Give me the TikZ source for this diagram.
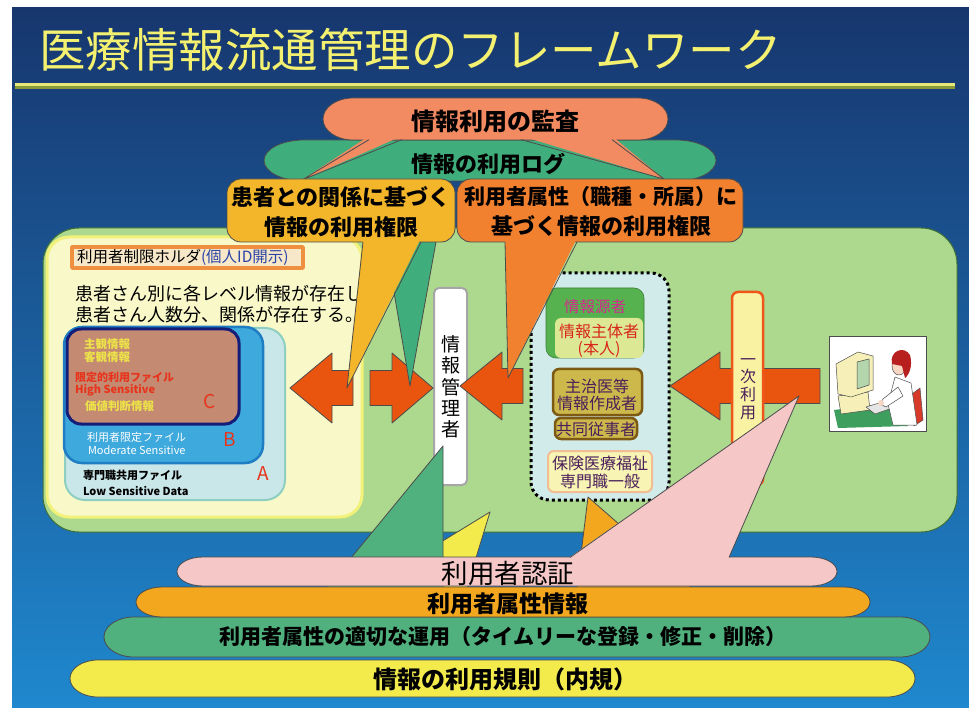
\documentclass[tikz,border=0pt]{standalone}
\usepackage{fontspec}
\setmainfont{Noto Sans CJK JP}
\usetikzlibrary{calc}

\definecolor{bgtop}{HTML}{17366E}
\definecolor{bgbot}{HTML}{1F88CE}
\definecolor{titleyel}{HTML}{F4F070}
\definecolor{ruleyel}{HTML}{E6E878}
\definecolor{ruleolive}{HTML}{8A9A38}
\definecolor{auditsalmon}{HTML}{F28A62}
\definecolor{loggreen}{HTML}{40AE7C}
\definecolor{relyel}{HTML}{F3B62A}
\definecolor{attrorg}{HTML}{F2812F}
\definecolor{panelgreen}{HTML}{ACD98D}
\definecolor{paneledge}{HTML}{3E6E36}
\definecolor{holderfill}{HTML}{F8F8C8}
\definecolor{holderedge}{HTML}{F2F27A}
\definecolor{labelorg}{HTML}{EE9040}
\definecolor{labelfill}{HTML}{F6E8C8}
\definecolor{idblue}{HTML}{2A44A8}
\definecolor{boxA}{HTML}{C9E7E8}
\definecolor{boxAedge}{HTML}{8ECFC2}
\definecolor{boxB}{HTML}{3EA9DC}
\definecolor{boxBedge}{HTML}{1F7DC4}
\definecolor{boxC}{HTML}{C48A72}
\definecolor{boxCedge}{HTML}{141E78}
\definecolor{ctext}{HTML}{ECE24A}
\definecolor{redtext}{HTML}{E8341C}
\definecolor{arroworg}{HTML}{E9540F}
\definecolor{dotfill}{HTML}{D0EBEA}
\definecolor{srcgreen}{HTML}{56B24E}
\definecolor{srcinner}{HTML}{DDE894}
\definecolor{srcmag}{HTML}{D42A8C}
\definecolor{srcred}{HTML}{D8261A}
\definecolor{olivefill}{HTML}{CDB84C}
\definecolor{oliveedge}{HTML}{7C5A14}
\definecolor{purpletext}{HTML}{4A1E5A}
\definecolor{generalfill}{HTML}{F8F4B4}
\definecolor{generaledge}{HTML}{F2BC94}
\definecolor{primaryfill}{HTML}{F8F2A2}
\definecolor{primaryedge}{HTML}{F0561A}
\definecolor{pinklayer}{HTML}{F5C7C7}
\definecolor{orglayer}{HTML}{F2A71F}
\definecolor{greenlayer}{HTML}{50B07E}
\definecolor{yellayer}{HTML}{F3EA4C}
\definecolor{deskgreen}{HTML}{3E9E5E}
\definecolor{beige}{HTML}{F6F0B8}
\definecolor{screengreen}{HTML}{B4D6AC}
\definecolor{chairred}{HTML}{D83A2A}
\definecolor{hairred}{HTML}{B82020}
\definecolor{skin}{HTML}{F8D6C4}

% flat band with elliptical ends: options, x1, y1, x2, y2, end radius
\newcommand\layerlens[6]{%
  \path[#1] ({#2+#6},#3) -- ({#4-#6},#3)
    arc[start angle=-90,end angle=90,x radius=#6,y radius={(#5-#3)/2}]
    -- ({#2+#6},#5)
    arc[start angle=90,end angle=270,x radius=#6,y radius={(#5-#3)/2}] -- cycle;}

% horizontal block arrow: tip x, head base x, tail x, centre y, head half, shaft half
\newcommand\blockarr[6]{%
  \path[blockarrow] (#1,#4) -- (#2,{#4-#5}) -- (#2,{#4-#6}) -- (#3,{#4-#6})
    -- (#3,{#4+#6}) -- (#2,{#4+#6}) -- (#2,{#4+#5}) -- cycle;}

\tikzset{
  blockarrow/.style={fill=arroworg, draw=black!70, line width=0.8pt},
  txt/.style={inner sep=0pt, outer sep=0pt},
  fs/.style={font=\fontsize{#1}{#1}\selectfont},
  fsb/.style={font=\fontsize{#1}{#1}\selectfont\bfseries},
}

\begin{document}
\begin{tikzpicture}[x=1pt,y=-1pt,line join=round]
\useasboundingbox (0,0) rectangle (969,708);
\fill[white] (0,0) rectangle (969,708);
\shade[top color=bgtop, bottom color=bgbot] (12,8) rectangle (969,708);

% heading
\node[txt, anchor=west, fs=46.5, text=titleyel] (title) at (39,50) {医療情報流通管理のフレームワーク};
\fill[ruleyel] (15,83) rectangle (955,86.5);
\fill[ruleolive] (15,86.5) rectangle (955,89);

% main panel
\draw[fill=panelgreen, draw=paneledge, line width=1pt, rounded corners=36pt] (43,228) rectangle (957,532);

% holder of per-patient files
\draw[fill=holderfill, draw=holderedge, line width=3pt, rounded corners=22pt] (47,237) rectangle (362,517);
\draw[fill=labelfill, draw=labelorg, line width=3.5pt] (72,247) rectangle (303,268);
\node[txt, anchor=west, fs=15.5] (holder) at (77,257.5) {利用者制限ホルダ{\color{idblue}(個人ID開示)}};
\node[txt, anchor=west, fs=18] (perpat1) at (75,294) {患者さん別に各レベル情報が存在し};
\node[txt, anchor=west, fs=18] (perpat2) at (75,315) {患者さん人数分、関係が存在する。};

\draw[fill=boxA, draw=boxAedge, line width=2pt, rounded corners=20pt] (65,328) rectangle (285,500);
\draw[fill=boxB, draw=boxBedge, line width=2.5pt, rounded corners=18pt] (64,327) rectangle (263,463);
\draw[fill=boxC, draw=boxCedge, line width=3pt, rounded corners=14pt] (67,329) rectangle (239,424);

\node[txt, anchor=west, fsb=11.5, text=ctext] (subj) at (84,344) {主観情報};
\node[txt, anchor=west, fsb=11.5, text=ctext] (obj) at (84,357) {客観情報};
\node[txt, anchor=west, fsb=11, text=redtext] (limfile) at (75,377) {限定的利用ファイル};
\node[txt, anchor=west, fsb=11, text=redtext] (high) at (75,390) {High Sensitive};
\node[txt, anchor=west, fsb=11.5, text=ctext] (value) at (85,406) {価値判断情報};
\node[txt, fs=19, text=redtext] (lvC) at (210,402) {C};

\node[txt, anchor=west, fs=11, text=white] (userfile) at (87,437) {利用者限定ファイル};
\node[txt, anchor=west, fs=11, text=white] (moder) at (88,450) {Moderate Sensitive};
\node[txt, fs=19, text=redtext] (lvB) at (230,440) {B};

\node[txt, anchor=west, fsb=11, text=black] (shared) at (83,475) {専門職共用ファイル};
\node[txt, anchor=west, fsb=11, text=black] (low) at (83,491) {Low Sensitive Data};
\node[txt, fs=19, text=redtext] (lvA) at (263,474) {A};

% information manager pillar
\draw[fill=white, draw=black!35, line width=2pt, rounded corners=5pt] (434,288) rectangle (467,485);
\node[txt, align=center, font=\fontsize{19}{21.3}\selectfont] (manager) at (451,387) {情\\報\\管\\理\\者};

% information sources (dotted group)
\draw[fill=dotfill, draw=black, line width=3pt, dash pattern=on 3pt off 3pt, rounded corners=18pt] (531,273) rectangle (669,500);
\draw[fill=srcgreen, draw=srcgreen!70!black, line width=0.6pt, rounded corners=10pt] (546,288) rectangle (644,358);
\fill[srcinner, rounded corners=6pt] (555,318) rectangle (643,358);
\node[txt, fs=15.5, text=srcmag] (source) at (595,307) {情報源者};
\node[txt, fs=16, text=srcred] (subject) at (599,331) {情報主体者};
\node[txt, fs=16, text=srcred] (self) at (599,349) {(本人)};

\draw[fill=olivefill, draw=oliveedge, line width=2.5pt, rounded corners=6pt] (553,369) rectangle (642,415);
\node[txt, fs=16, text=purpletext] (doctor) at (597,386) {主治医等};
\node[txt, fs=16, text=purpletext] (author) at (597,403) {情報作成者};
\draw[fill=olivefill, draw=oliveedge, line width=2.5pt, rounded corners=6pt] (555,418) rectangle (637,439);
\node[txt, fs=16, text=purpletext] (cowork) at (596,429) {共同従事者};
\draw[fill=generalfill, draw=generaledge, line width=2pt, rounded corners=6pt] (548,451) rectangle (652,492);
\node[txt, fs=16, text=purpletext] (welfare) at (600,463) {保険医療福祉};
\node[txt, fs=16, text=purpletext] (general) at (600,481) {専門職一般};

% flow arrows
\blockarr{290}{332}{353}{388}{35}{17.5}
\blockarr{433}{392}{370}{388}{35}{17.5}
\blockarr{460}{502}{523}{386}{34}{17.5}
\blockarr{670}{720}{820}{386}{34}{17.5}

% primary use pillar
\draw[fill=primaryfill, draw=primaryedge, line width=2.5pt, rounded corners=6pt] (732,292) rectangle (763,485);
\node[txt, align=center, font=\fontsize{16}{17.7}\selectfont, text=purpletext] (primary) at (748,389) {一\\次\\利\\用};

% user at a terminal
\draw[fill=white, draw=black!70, line width=0.8pt] (829,336) rectangle (926,431);
\fill[deskgreen] (834,410) -- (888,403) -- (908,426) -- (838,428) -- cycle;
\draw[fill=beige, draw=black!70, line width=0.5pt] (838,396) -- (868,392) -- (870,410) -- (841,414) -- cycle;
\draw[fill=beige, draw=black!70, line width=0.5pt] (836,364) -- (858,352) -- (873,356) -- (873,390) -- (851,397) -- (838,394) -- cycle;
\draw[fill=screengreen, draw=black!70, line width=0.5pt] (857,362) -- (869,359) -- (869,385) -- (857,389) -- cycle;
\draw[fill=black!10, draw=black!70, line width=0.5pt] (866,407) -- (892,399) -- (901,405) -- (875,414) -- cycle;
\draw[fill=chairred, draw=black!70, line width=0.5pt] (912,394) -- (920,388) -- (923,420) -- (914,426) -- cycle;
\draw[fill=white, draw=black!70, line width=0.5pt] (895,377) -- (911,383) -- (917,425) -- (893,425) -- (888,404) -- cycle;
\draw[fill=white, draw=black!70, line width=0.5pt] (898,387) -- (883,399) -- (880,404) -- (886,407) -- (903,396) -- cycle;
\fill[skin] (881,403) circle (3);
\draw[fill=skin, draw=black!70, line width=0.5pt] (899,366) ellipse (7 and 9);
\fill[hairred] (892,364) .. controls (889,351) and (904,345) .. (910,355) .. controls (913,366) and (909,375) .. (905,378) -- (902,366) -- cycle;

% audit and log banners
\layerlens{fill=loggreen, draw=black!70, line width=0.8pt}{264}{140}{716}{181}{40}
\layerlens{fill=auditsalmon, draw=black!70, line width=0.8pt}{323}{98}{668}{140}{30}
\fill[auditsalmon] (369,136) -- (302,180) -- (402,136) -- cycle;
\draw[black!70, line width=0.8pt] (369,139.6) -- (302,180) -- (402,139.6);
\fill[auditsalmon] (521,136) -- (664,179) -- (612,136) -- cycle;
\draw[black!70, line width=0.8pt] (521,139.6) -- (664,179) -- (612,139.6);
\node[txt, fsb=24] (audit) at (495,121) {情報利用の監査};
\node[txt, fsb=22] (log) at (488,164) {情報の利用ログ};

% log feed towards the manager
\draw[fill=loggreen, draw=black!70, line width=0.8pt] (375,181) -- (410,386) -- (447,181);

% access-right callouts
\draw[fill=relyel, draw=black!70, line width=0.8pt, rounded corners=14pt] (227,179) rectangle (455,242);
\draw[fill=attrorg, draw=black!70, line width=0.8pt, rounded corners=14pt] (457,179) rectangle (743,242);
\fill[relyel] (363,238) -- (347,388) -- (421,238) -- cycle;
\draw[black!70, line width=0.8pt] (363,242) -- (347,388) -- (421,242);
\fill[attrorg] (505,238) -- (508,378) -- (577,238) -- cycle;
\draw[black!70, line width=0.8pt] (505,242) -- (508,378) -- (577,242);
\node[txt, align=center, font=\fontsize{22}{30}\selectfont\bfseries] (relright) at (341,212) {患者との関係に基づく\\情報の利用権限};
\node[txt, align=center, font=\fontsize{21}{30}\selectfont\bfseries] (attrright) at (601,212) {利用者属性（職種・所属）に\\\fontsize{22}{30}\selectfont 基づく情報の利用権限};

% foundation layers and their feeds
\draw[fill=yellayer, draw=black!70, line width=0.8pt] (490,512) -- (330,610) -- (460,610) -- cycle;
\draw[fill=greenlayer, draw=black!70, line width=0.8pt] (443,446) -- (300,620) -- (443,620) -- cycle;
\draw[fill=orglayer, draw=black!70, line width=0.8pt] (588,497) -- (576,595) -- (700,595) -- cycle;

\layerlens{fill=yellayer, draw=black!70, line width=0.8pt}{70}{660}{915}{697}{28}
\layerlens{fill=greenlayer, draw=black!70, line width=0.8pt}{104}{617}{930}{657}{30}
\layerlens{fill=orglayer, draw=black!70, line width=0.8pt}{136}{587}{870}{617}{26}
\layerlens{fill=pinklayer, draw=black!70, line width=0.8pt}{177}{557}{837}{586}{26}
\fill[pinklayer] (799,396) -- (570,557) -- (570,566) -- (729,566) -- (729,557) -- cycle;
\draw[black!70, line width=0.8pt] (570,557.5) -- (799,396) -- (729,557.5);

\node[txt, fs=26.5] (authn) at (508,573) {利用者認証};
\node[txt, fsb=23] (attrinfo) at (508,604) {利用者属性情報};
\node[txt, fsb=21] (attrops) at (503,637) {利用者属性の適切な運用（タイムリーな登録・修正・削除）};
\node[txt, fsb=24] (rules) at (505,679) {情報の利用規則（内規）};
\end{tikzpicture}
\end{document}
